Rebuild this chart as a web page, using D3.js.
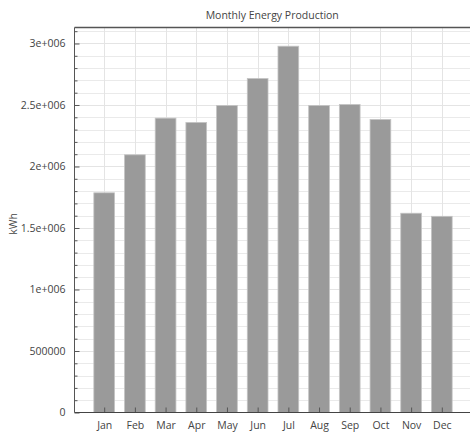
<!DOCTYPE html>
<html>
<head>
<meta charset="utf-8">
<script src="https://cdn.jsdelivr.net/npm/d3@7"></script>
<style>
  html, body { margin: 0; padding: 0; background: #fff; }
  svg { display: block; }
  text { font-family: "Open Sans", "Noto Sans", sans-serif; fill: #444; }
</style>
</head>
<body>
<svg id="chart" width="470" height="434"></svg>
<script>
// Monthly energy production (kWh)
const months = ["Jan", "Feb", "Mar", "Apr", "May", "Jun", "Jul", "Aug", "Sep", "Oct", "Nov", "Dec"];
const production = [1786000, 2095000, 2393000, 2358000, 2496000, 2715000, 2978000, 2496000, 2504000, 2382000, 1620000, 1595000];
const yMajorTicks = [0, 500000, 1000000, 1500000, 2000000, 2500000, 3000000];
const yTickLabels = ["0", "500000", "1e+006", "1.5e+006", "2e+006", "2.5e+006", "3e+006"];

const svg = d3.select("#chart");
const W = 470;
const plot = { left: 74.5, top: 27.5, bottom: 412.5 };

// x is a numeric axis: month i sits at i+1
const x = d3.scaleLinear().domain([0, 13]).range([73.5, 472.5]);
const y = d3.scaleLinear().domain([0, 3130000]).range([plot.bottom, plot.top]);
const barW = x(0.675) - x(0);

const minorTicks = d3.range(100000, 3130000, 100000).filter(v => v % 500000 !== 0);

// minor horizontal grid (dotted)
svg.append("g").selectAll("line").data(minorTicks).join("line")
  .attr("x1", plot.left).attr("x2", W)
  .attr("y1", d => Math.round(y(d)) + 0.5).attr("y2", d => Math.round(y(d)) + 0.5)
  .attr("stroke", "#d4d4d4").attr("stroke-dasharray", "1,1");

// major horizontal grid
svg.append("g").selectAll("line").data(yMajorTicks.slice(1)).join("line")
  .attr("x1", plot.left).attr("x2", W)
  .attr("y1", d => Math.round(y(d)) + 0.5).attr("y2", d => Math.round(y(d)) + 0.5)
  .attr("stroke", "#e4e4e4");

// vertical grid at each month
svg.append("g").selectAll("line").data(months).join("line")
  .attr("x1", (d, i) => Math.round(x(i + 1)) + 0.5).attr("x2", (d, i) => Math.round(x(i + 1)) + 0.5)
  .attr("y1", plot.top).attr("y2", plot.bottom)
  .attr("stroke", "#e4e4e4");

// bars
svg.append("g").selectAll("rect").data(production).join("rect")
  .attr("x", (d, i) => x(i + 1) - barW / 2)
  .attr("width", barW)
  .attr("y", d => y(d))
  .attr("height", d => plot.bottom - y(d))
  .attr("fill", "#9a9a9a")
  .attr("stroke", "#c4c4c4")
  .attr("stroke-width", 0.8);

// left axis with labels and inward major ticks
const yAxis = d3.axisLeft(y)
  .tickValues(yMajorTicks)
  .tickFormat((d, i) => yTickLabels[i])
  .tickSizeInner(-5).tickSizeOuter(0).tickPadding(9);
const gy = svg.append("g").attr("transform", `translate(${plot.left},0)`).call(yAxis);
gy.select(".domain").remove();
gy.selectAll(".tick line").attr("stroke", "#555");
gy.selectAll("text").style("font-size", "10.5px").attr("fill", "#444");

// left axis minor ticks
const yMinor = d3.axisLeft(y).tickValues(minorTicks).tickFormat("").tickSizeInner(-3).tickSizeOuter(0);
const gym = svg.append("g").attr("transform", `translate(${plot.left},0)`).call(yMinor);
gym.select(".domain").remove();
gym.selectAll(".tick line").attr("stroke", "#555");

// bottom axis with month labels
const xAxis = d3.axisBottom(x)
  .tickValues(d3.range(1, 13))
  .tickFormat(d => months[d - 1])
  .tickSizeInner(-5).tickSizeOuter(0).tickPadding(9);
const gx = svg.append("g").attr("transform", `translate(0,${plot.bottom})`).call(xAxis);
gx.select(".domain").remove();
gx.selectAll(".tick line").attr("stroke", "#555");
gx.selectAll("text").style("font-size", "10.5px").attr("fill", "#444");

// frame: left, bottom and top lines
svg.append("line").attr("x1", plot.left).attr("x2", plot.left).attr("y1", plot.top).attr("y2", plot.bottom)
  .attr("stroke", "#555");
svg.append("line").attr("x1", plot.left).attr("x2", W).attr("y1", plot.bottom).attr("y2", plot.bottom)
  .attr("stroke", "#444");
svg.append("line").attr("x1", plot.left).attr("x2", W).attr("y1", plot.top).attr("y2", plot.top)
  .attr("stroke", "#555").attr("stroke-width", 1.3);

// title
svg.append("text")
  .attr("x", (plot.left + W) / 2).attr("y", 19)
  .attr("text-anchor", "middle")
  .style("font-size", "10.5px")
  .text("Monthly Energy Production");

// y axis title
svg.append("text")
  .attr("transform", `translate(17,${(plot.top + plot.bottom) / 2 + 4}) rotate(-90)`)
  .attr("text-anchor", "middle")
  .style("font-size", "10.5px")
  .text("kWh");
</script>
</body>
</html>
